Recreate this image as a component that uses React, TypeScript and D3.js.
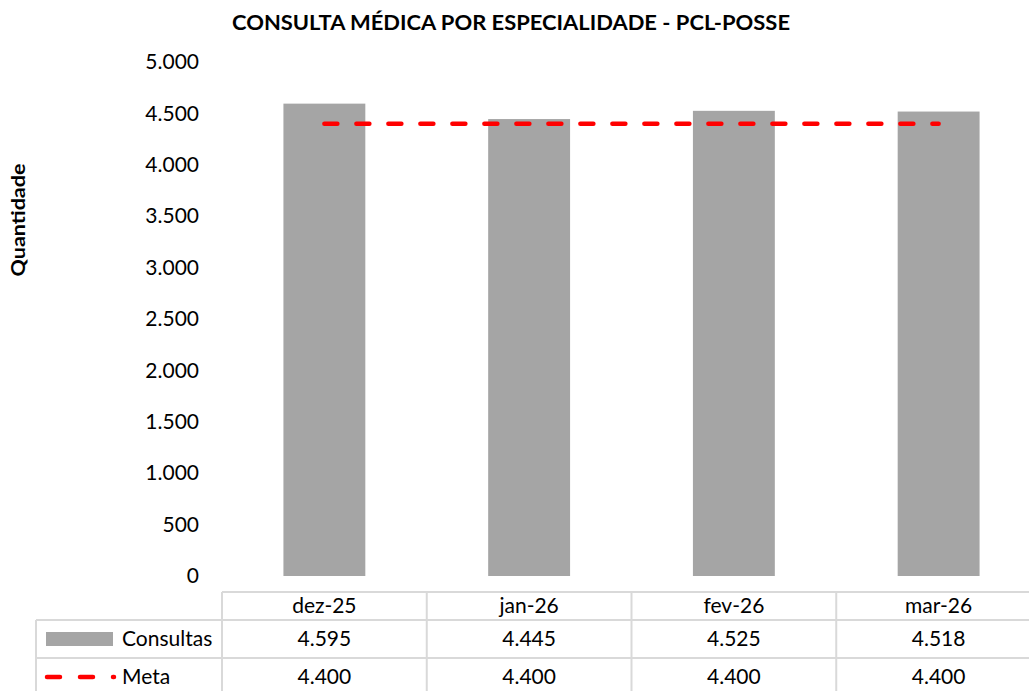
import React, { useEffect, useRef } from 'react'
import * as d3 from 'd3'

// dados
const categorias = ['dez-25', 'jan-26', 'fev-26', 'mar-26']
const consultas = [4595, 4445, 4525, 4518]
const meta = [4400, 4400, 4400, 4400]
const yTicks = [0, 500, 1000, 1500, 2000, 2500, 3000, 3500, 4000, 4500, 5000]

const W = 1029
const H = 691
const FONT = 'Lato, "Open Sans", sans-serif'

const ptBR = d3.formatLocale({ decimal: ',', thousands: '.', grouping: [3], currency: ['R$', ''] })
const fmt = ptBR.format(',d')

function App() {
	const ref = useRef<SVGSVGElement>(null)

	useEffect(() => {
		const svg = d3.select(ref.current)
		svg.selectAll('*').remove()

		// area do grafico
		const left = 222
		const colW = 204.75
		const right = left + colW * categorias.length // passa da borda, igual ao original
		const x = d3.scaleBand().domain(categorias).range([left, right]).paddingInner(0.6).paddingOuter(0.3)
		const col = d3.scaleBand().domain(categorias).range([left, right])
		const y = d3.scaleLinear().domain([0, 5000]).range([576, 62])
		const center = (c: string) => (col(c) as number) + col.bandwidth() / 2

		// titulo
		svg.append('text')
			.attr('x', 511)
			.attr('y', 30)
			.attr('text-anchor', 'middle')
			.attr('font-family', FONT)
			.attr('font-weight', 700)
			.attr('font-size', 20)
			.attr('textLength', 558)
			.attr('lengthAdjust', 'spacingAndGlyphs')
			.text('CONSULTA MÉDICA POR ESPECIALIDADE - PCL-POSSE')

		// titulo do eixo y
		svg.append('text')
			.attr('transform', 'translate(25,220) rotate(-90)')
			.attr('text-anchor', 'middle')
			.attr('font-family', FONT)
			.attr('font-weight', 700)
			.attr('font-size', 18)
			.attr('textLength', 113)
			.attr('lengthAdjust', 'spacingAndGlyphs')
			.text('Quantidade')

		// eixo y
		const yAxis = d3.axisLeft(y).tickValues(yTicks).tickSize(0).tickPadding(0).tickFormat(d => fmt(d as number))
		const gy = svg.append('g').attr('transform', 'translate(199,0)').call(yAxis)
		gy.select('.domain').remove()
		gy.selectAll('text').attr('font-family', FONT).attr('font-size', 21).attr('fill', '#000')

		// barras
		svg.append('g')
			.selectAll('rect')
			.data(categorias)
			.join('rect')
			.attr('x', d => x(d) as number)
			.attr('width', x.bandwidth())
			.attr('y', (d, i) => y(consultas[i]))
			.attr('height', (d, i) => y(0) - y(consultas[i]))
			.attr('fill', '#a5a5a5')

		// linha da meta
		const line = d3.line<number>()
			.x((d, i) => center(categorias[i]))
			.y(d => y(d))
		svg.append('path')
			.datum(meta)
			.attr('d', line)
			.attr('fill', 'none')
			.attr('stroke', '#ff0000')
			.attr('stroke-width', 4.5)
			.attr('stroke-dasharray', '13 19')
			.attr('stroke-linecap', 'round')

		// tabela de dados
		const grid = svg.append('g').attr('stroke', '#d9d9d9').attr('stroke-width', 2)
		const rows = [592, 620, 658]
		grid.append('line').attr('x1', left).attr('x2', right).attr('y1', rows[0]).attr('y2', rows[0])
		grid.append('line').attr('x1', 36).attr('x2', right).attr('y1', rows[1]).attr('y2', rows[1])
		grid.append('line').attr('x1', 36).attr('x2', right).attr('y1', rows[2]).attr('y2', rows[2])
		grid.append('line').attr('x1', 36).attr('x2', 36).attr('y1', rows[1]).attr('y2', H)
		grid.selectAll('line.v')
			.data(categorias)
			.join('line')
			.attr('class', 'v')
			.attr('x1', d => col(d) as number)
			.attr('x2', d => col(d) as number)
			.attr('y1', rows[0])
			.attr('y2', H)

		const cell = (g: d3.Selection<SVGGElement, unknown, null, undefined>, vals: string[], yy: number) => {
			g.selectAll('text')
				.data(vals)
				.join('text')
				.attr('x', (d, i) => center(categorias[i]))
				.attr('y', yy)
				.attr('text-anchor', 'middle')
				.attr('font-family', FONT)
				.attr('font-size', 21)
				.text(d => d)
		}
		cell(svg.append('g'), categorias, 613)
		cell(svg.append('g'), consultas.map(v => fmt(v)), 646)
		cell(svg.append('g'), meta.map(v => fmt(v)), 684)

		// legenda dentro da tabela
		svg.append('rect').attr('x', 46).attr('y', 632).attr('width', 67).attr('height', 14).attr('fill', '#a5a5a5')
		svg.append('text').attr('x', 122).attr('y', 646).attr('font-family', FONT).attr('font-size', 21).text('Consultas')
		svg.append('line')
			.attr('x1', 47).attr('x2', 114).attr('y1', 677).attr('y2', 677)
			.attr('stroke', '#ff0000')
			.attr('stroke-width', 4.5)
			.attr('stroke-dasharray', '13 20')
			.attr('stroke-linecap', 'round')
		svg.append('text').attr('x', 122).attr('y', 684).attr('font-family', FONT).attr('font-size', 21).text('Meta')
	}, [])

	return (
		<svg
			ref={ref}
			width={W}
			height={H}
			style={{ position: 'absolute', left: 0, top: 0, background: '#fff' }}
		/>
	)
}

export default App
